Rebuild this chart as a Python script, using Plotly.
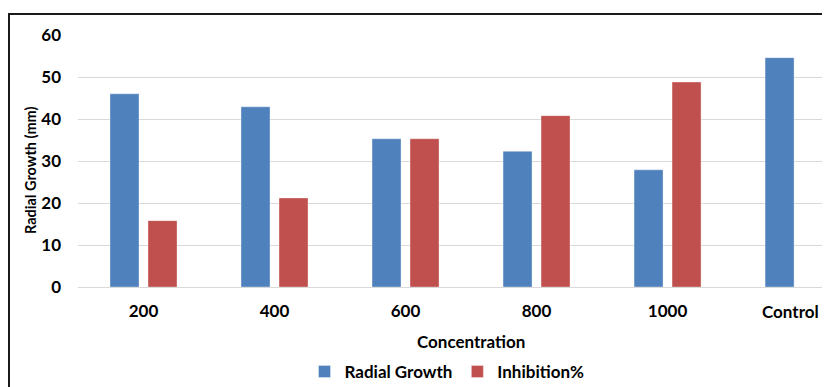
import plotly.graph_objects as go

categories = ["200", "400", "600", "800", "1000", "Control"]
tick_labels = ["200", "400", "600", "800", "1000", ""]
last_label = "Control"
radial_growth = [46.0, 42.9, 35.3, 32.3, 27.9, 54.6]
inhibition = [15.8, 21.2, 35.3, 40.8, 48.8, None]
y_ticks = [0, 10, 20, 30, 40, 50, 60]

FONT = "Lato"
OFF = 8  # page body margin offset
W, H = 830 - OFF, 387 - OFF
L, T = 78 - OFF, 35 - OFF
R = W - (830 - OFF)
B = H - (287 - OFF)
pw, ph = W - L - R, H - T - B

def px(x):
    return (x - OFF - L) / pw

def py(y):
    return (H - B - (y - OFF)) / ph

fig = go.Figure()
fig.add_trace(go.Bar(x=categories, y=radial_growth, name="Radial Growth",
                     marker=dict(color="#4F81BD", line=dict(color="rgba(255,255,255,0.35)", width=1))))
fig.add_trace(go.Bar(x=categories, y=inhibition, name="Inhibition%",
                     marker=dict(color="#C0504D", line=dict(color="rgba(255,255,255,0.35)", width=1))))

fig.update_layout(
    width=W, height=H,
    margin=dict(l=L, r=R, t=T, b=B, pad=0, autoexpand=False),
    paper_bgcolor="white", plot_bgcolor="white",
    barmode="group", bargap=0.42, bargroupgap=0.237,
    font=dict(family=FONT, size=17, color="#000000"),
    showlegend=True,
    legend=dict(orientation="h", x=px(447), y=py(372), xanchor="center", yanchor="middle",
                font=dict(family=FONT, size=17, color="#000000", weight="bold"), traceorder="normal",
                itemwidth=30, bgcolor="rgba(0,0,0,0)"),
    xaxis=dict(type="category", range=[-0.5, 5.24], showgrid=False, showline=True,
               linecolor="#D9D9D9", linewidth=1, ticks="", ticklabelstandoff=9,
               tickmode="array", tickvals=categories, ticktext=tick_labels,
               tickfont=dict(family=FONT, size=17, color="#000000", weight="bold")),
    yaxis=dict(range=[0, 60], tickvals=y_ticks, showgrid=True, gridcolor="#D9D9D9",
               gridwidth=1, zeroline=False, showline=False, ticks="", ticklabelstandoff=16,
               tickfont=dict(family=FONT, size=17, color="#000000", weight="bold")),
    annotations=[
        dict(text="<b>" + last_label + "</b>", xref="x", yref="paper", x=categories[-1], y=py(311),
             xanchor="center", yanchor="middle", xshift=-8, showarrow=False,
             font=dict(family=FONT, size=17, color="#000000")),
        dict(text="<b>Concentration</b>", xref="paper", yref="paper", x=px(471), y=py(341),
             xanchor="center", yanchor="middle", showarrow=False,
             font=dict(family=FONT, size=17, color="#000000")),
        dict(text="<b>Radial Growth (mm)</b>", xref="paper", yref="paper", x=px(30), y=py(171),
             xanchor="center", yanchor="middle", showarrow=False, textangle=-90,
             font=dict(family=FONT, size=14.5, color="#000000")),
    ],
    shapes=[
        dict(type="rect", xref="paper", yref="paper", x0=px(9), y0=py(420), x1=px(870), y1=py(14),
             line=dict(color="#1a1a1a", width=2), fillcolor="rgba(0,0,0,0)", layer="above"),
    ],
)

fig.write_html("out.html")
